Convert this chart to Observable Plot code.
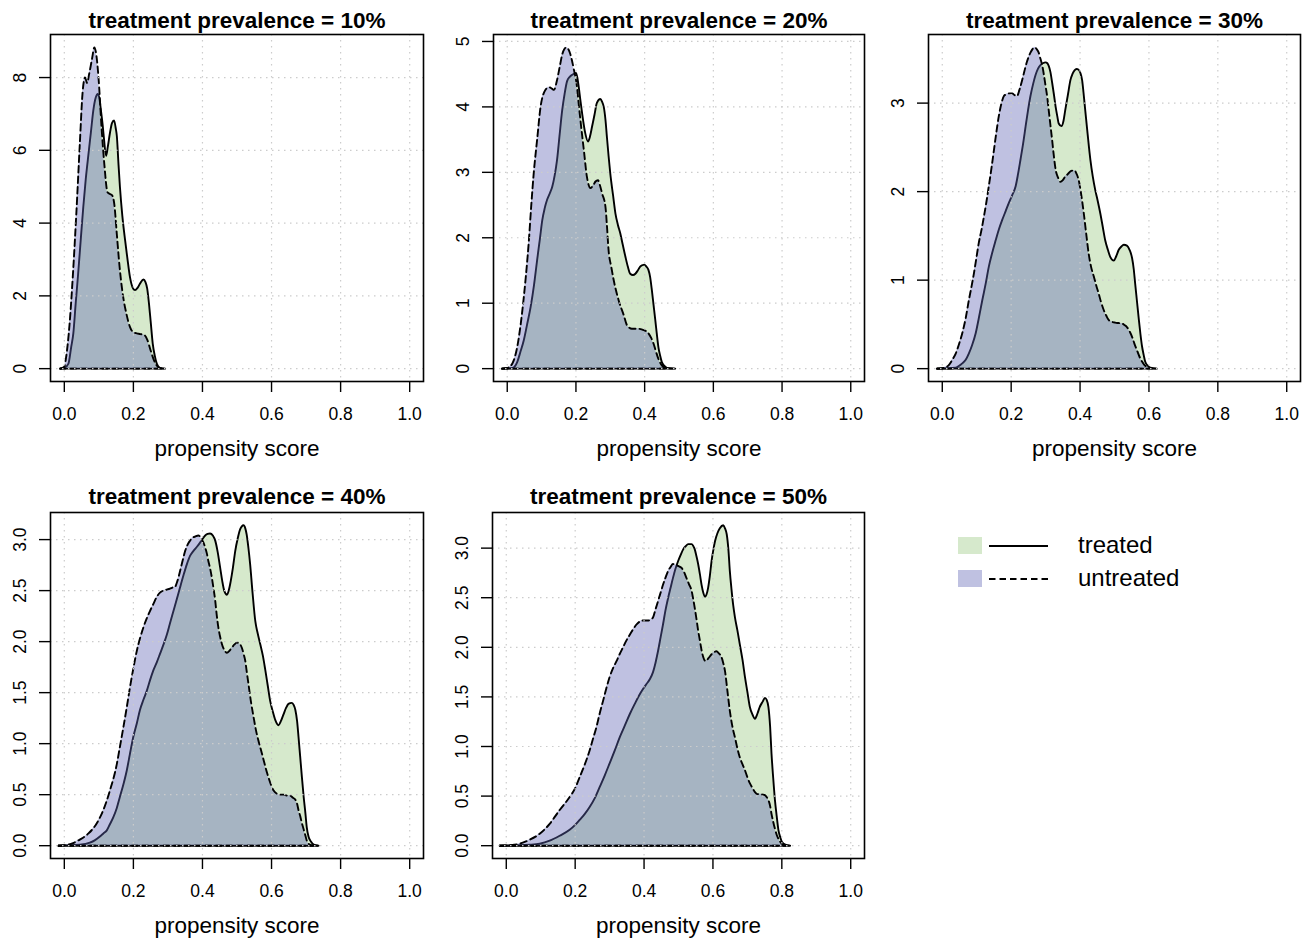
<!DOCTYPE html>
<html>
<head>
<meta charset="utf-8">
<script src="https://cdn.jsdelivr.net/npm/d3@7"></script>
<script src="https://cdn.jsdelivr.net/npm/@observablehq/plot@0.6"></script>
<style>
  html, body { margin: 0; padding: 0; background: white; }
  #chart { position: relative; width: 1311px; height: 940px; background: white; overflow: hidden;
           font-family: "Liberation Sans", Arial, Helvetica, sans-serif; }
  .cell { position: absolute; }
  .leg { position: absolute; font-size: 24px; line-height: 24px; color: black; }
</style>
</head>
<body>
<div id="chart"></div>
<script>
// ---------- data ----------
const xTicks = [0, 0.2, 0.4, 0.6, 0.8, 1.0];
const titles = ["treatment prevalence = 10%", "treatment prevalence = 20%", "treatment prevalence = 30%",
                "treatment prevalence = 40%", "treatment prevalence = 50%"];
const xLabel = "propensity score";
const seriesNames = ["treated", "untreated"];

const yTicks10 = [0, 2, 4, 6, 8];
const yTicks20 = [0, 1, 2, 3, 4, 5];
const yTicks30 = [0, 1, 2, 3];
const yTicks40 = [0, 0.5, 1.0, 1.5, 2.0, 2.5, 3.0];
const yTicks50 = [0, 0.5, 1.0, 1.5, 2.0, 2.5, 3.0];

// [propensity score, density]
const treated10 = [[-0.012,0],[0.0,0.02],[0.012,0.14],[0.02,0.6],[0.026,0.96],[0.033,1.8],[0.04,2.6],[0.048,3.6],[0.055,4.45],[0.062,5.2],[0.07,5.9],[0.077,6.5],[0.084,7.1],[0.091,7.45],[0.097,7.55],[0.102,7.4],[0.106,7.1],[0.111,6.7],[0.115,6.3],[0.121,5.85],[0.126,6.1],[0.132,6.47],[0.138,6.75],[0.144,6.82],[0.149,6.6],[0.152,6.4],[0.157,5.6],[0.161,5.0],[0.168,4.2],[0.176,3.53],[0.183,3.0],[0.19,2.52],[0.197,2.25],[0.205,2.16],[0.212,2.22],[0.22,2.35],[0.229,2.45],[0.235,2.38],[0.24,2.2],[0.245,1.8],[0.25,1.3],[0.256,0.69],[0.262,0.35],[0.268,0.13],[0.277,0.02],[0.292,0]];
const untreated10 = [[-0.012,0],[0.0,0.05],[0.005,0.3],[0.015,1.2],[0.025,2.6],[0.035,4.3],[0.045,6.2],[0.053,7.6],[0.06,8.0],[0.066,7.85],[0.072,8.1],[0.08,8.5],[0.087,8.83],[0.093,8.6],[0.099,8.0],[0.108,6.6],[0.116,5.6],[0.125,4.85],[0.132,4.8],[0.138,4.77],[0.145,4.5],[0.152,3.7],[0.16,2.8],[0.17,2.0],[0.18,1.5],[0.19,1.15],[0.2,1.0],[0.21,0.97],[0.22,0.95],[0.232,0.92],[0.24,0.8],[0.25,0.5],[0.26,0.22],[0.268,0.08],[0.278,0.01],[0.29,0]];

const treated20 = [[-0.015,0],[0.015,0.01],[0.029,0.1],[0.038,0.25],[0.048,0.43],[0.058,0.68],[0.068,0.94],[0.078,1.28],[0.087,1.66],[0.095,1.98],[0.102,2.27],[0.109,2.45],[0.116,2.58],[0.124,2.68],[0.131,2.78],[0.138,2.95],[0.145,3.19],[0.152,3.55],[0.16,3.95],[0.167,4.2],[0.174,4.39],[0.182,4.46],[0.189,4.49],[0.2,4.52],[0.204,4.45],[0.208,4.31],[0.213,4.1],[0.218,3.9],[0.227,3.6],[0.235,3.47],[0.241,3.55],[0.247,3.7],[0.254,3.88],[0.261,4.06],[0.271,4.12],[0.276,4.08],[0.281,4.0],[0.286,3.8],[0.29,3.55],[0.295,3.25],[0.3,2.98],[0.308,2.65],[0.315,2.37],[0.322,2.2],[0.329,2.07],[0.336,1.9],[0.344,1.71],[0.351,1.56],[0.358,1.45],[0.366,1.43],[0.373,1.45],[0.38,1.5],[0.387,1.56],[0.393,1.58],[0.399,1.59],[0.405,1.56],[0.411,1.51],[0.416,1.4],[0.421,1.2],[0.426,0.97],[0.431,0.74],[0.435,0.55],[0.44,0.33],[0.445,0.2],[0.45,0.1],[0.458,0.04],[0.465,0.01],[0.489,0]];
const untreated20 = [[-0.015,0],[0.0,0.01],[0.015,0.08],[0.029,0.33],[0.044,0.89],[0.054,1.4],[0.063,1.96],[0.07,2.5],[0.077,2.98],[0.087,3.5],[0.097,4.0],[0.108,4.23],[0.121,4.3],[0.13,4.28],[0.136,4.26],[0.145,4.41],[0.153,4.62],[0.16,4.8],[0.166,4.88],[0.172,4.91],[0.178,4.88],[0.184,4.8],[0.194,4.57],[0.203,4.31],[0.208,4.05],[0.213,3.8],[0.223,3.34],[0.232,2.93],[0.242,2.76],[0.25,2.8],[0.257,2.86],[0.264,2.88],[0.27,2.8],[0.276,2.68],[0.286,2.47],[0.29,2.2],[0.295,1.81],[0.303,1.55],[0.31,1.35],[0.324,1.05],[0.339,0.82],[0.349,0.66],[0.363,0.61],[0.378,0.61],[0.397,0.59],[0.411,0.54],[0.419,0.47],[0.426,0.38],[0.433,0.26],[0.44,0.15],[0.45,0.05],[0.465,0]];

const treated30 = [[-0.015,0],[0.039,0.01],[0.048,0.03],[0.058,0.06],[0.068,0.1],[0.077,0.17],[0.087,0.27],[0.097,0.4],[0.106,0.57],[0.116,0.77],[0.126,0.96],[0.135,1.15],[0.145,1.31],[0.155,1.45],[0.164,1.57],[0.174,1.68],[0.184,1.78],[0.193,1.87],[0.203,1.96],[0.213,2.06],[0.22,2.2],[0.227,2.36],[0.235,2.55],[0.242,2.74],[0.249,2.92],[0.256,3.08],[0.264,3.22],[0.271,3.32],[0.278,3.39],[0.285,3.43],[0.292,3.45],[0.3,3.46],[0.305,3.45],[0.309,3.42],[0.314,3.35],[0.319,3.23],[0.324,3.1],[0.329,2.96],[0.334,2.85],[0.338,2.77],[0.346,2.74],[0.352,2.8],[0.357,2.92],[0.365,3.1],[0.372,3.26],[0.378,3.33],[0.384,3.37],[0.39,3.385],[0.395,3.38],[0.401,3.34],[0.406,3.26],[0.41,3.12],[0.415,2.92],[0.422,2.65],[0.43,2.36],[0.437,2.17],[0.444,2.02],[0.451,1.9],[0.459,1.75],[0.466,1.6],[0.473,1.45],[0.481,1.34],[0.488,1.26],[0.498,1.22],[0.505,1.27],[0.512,1.34],[0.52,1.38],[0.527,1.4],[0.536,1.39],[0.544,1.34],[0.551,1.25],[0.556,1.12],[0.56,0.96],[0.565,0.77],[0.57,0.58],[0.575,0.4],[0.58,0.25],[0.585,0.15],[0.589,0.08],[0.597,0.03],[0.604,0.01],[0.623,0]];
const untreated30 = [[-0.015,0],[0.005,0.01],[0.019,0.04],[0.029,0.1],[0.039,0.17],[0.048,0.27],[0.058,0.4],[0.068,0.57],[0.077,0.77],[0.085,0.93],[0.092,1.08],[0.099,1.25],[0.106,1.42],[0.114,1.57],[0.121,1.72],[0.128,1.88],[0.135,2.06],[0.143,2.27],[0.15,2.47],[0.157,2.67],[0.164,2.85],[0.172,3.0],[0.179,3.08],[0.186,3.1],[0.193,3.11],[0.203,3.11],[0.21,3.09],[0.217,3.08],[0.224,3.15],[0.232,3.26],[0.239,3.37],[0.246,3.47],[0.256,3.57],[0.262,3.61],[0.268,3.63],[0.274,3.61],[0.28,3.57],[0.285,3.5],[0.29,3.43],[0.295,3.32],[0.3,3.19],[0.305,3.06],[0.309,2.92],[0.314,2.75],[0.319,2.58],[0.324,2.4],[0.329,2.25],[0.336,2.16],[0.343,2.11],[0.35,2.13],[0.357,2.17],[0.365,2.2],[0.372,2.23],[0.384,2.24],[0.39,2.2],[0.396,2.13],[0.404,1.95],[0.411,1.75],[0.418,1.52],[0.425,1.3],[0.432,1.15],[0.44,1.04],[0.447,0.94],[0.454,0.85],[0.461,0.75],[0.469,0.66],[0.476,0.6],[0.483,0.55],[0.492,0.53],[0.502,0.52],[0.512,0.515],[0.522,0.51],[0.53,0.49],[0.536,0.47],[0.544,0.42],[0.551,0.36],[0.558,0.28],[0.565,0.21],[0.572,0.14],[0.58,0.08],[0.587,0.04],[0.594,0.02],[0.609,0]];

const treated40 = [[-0.017,0],[0.045,0.01],[0.074,0.03],[0.089,0.055],[0.103,0.09],[0.113,0.12],[0.123,0.15],[0.132,0.21],[0.142,0.28],[0.152,0.37],[0.161,0.48],[0.171,0.6],[0.181,0.74],[0.19,0.9],[0.2,1.07],[0.21,1.2],[0.219,1.33],[0.229,1.43],[0.239,1.52],[0.248,1.62],[0.258,1.72],[0.268,1.8],[0.277,1.88],[0.287,1.97],[0.297,2.07],[0.306,2.18],[0.316,2.3],[0.326,2.42],[0.335,2.53],[0.345,2.65],[0.355,2.76],[0.364,2.84],[0.374,2.89],[0.384,2.93],[0.393,2.97],[0.401,3.01],[0.408,3.04],[0.415,3.055],[0.422,3.06],[0.43,3.04],[0.437,2.99],[0.444,2.88],[0.451,2.73],[0.457,2.6],[0.463,2.5],[0.471,2.46],[0.476,2.5],[0.48,2.56],[0.488,2.72],[0.495,2.89],[0.502,3.01],[0.509,3.1],[0.514,3.13],[0.519,3.14],[0.524,3.11],[0.528,3.05],[0.533,2.92],[0.538,2.76],[0.545,2.48],[0.553,2.2],[0.56,2.08],[0.567,1.98],[0.575,1.86],[0.582,1.72],[0.589,1.57],[0.596,1.42],[0.604,1.31],[0.611,1.23],[0.62,1.18],[0.627,1.22],[0.635,1.29],[0.642,1.35],[0.649,1.39],[0.659,1.4],[0.664,1.38],[0.669,1.33],[0.674,1.22],[0.678,1.07],[0.683,0.87],[0.688,0.67],[0.693,0.48],[0.698,0.32],[0.702,0.18],[0.707,0.09],[0.714,0.04],[0.722,0.01],[0.736,0]];
const untreated40 = [[-0.017,0],[0.0,0.005],[0.021,0.02],[0.045,0.06],[0.07,0.12],[0.094,0.22],[0.113,0.35],[0.132,0.54],[0.152,0.8],[0.161,0.97],[0.171,1.16],[0.181,1.36],[0.19,1.55],[0.2,1.74],[0.21,1.91],[0.219,2.03],[0.229,2.14],[0.239,2.23],[0.248,2.3],[0.258,2.37],[0.268,2.44],[0.277,2.48],[0.287,2.5],[0.297,2.51],[0.306,2.52],[0.313,2.53],[0.321,2.54],[0.328,2.6],[0.335,2.69],[0.343,2.8],[0.35,2.89],[0.357,2.95],[0.364,2.99],[0.372,3.02],[0.379,3.03],[0.388,3.04],[0.393,3.03],[0.398,3.0],[0.403,2.97],[0.408,2.92],[0.413,2.86],[0.417,2.79],[0.422,2.72],[0.427,2.63],[0.432,2.52],[0.437,2.4],[0.441,2.27],[0.446,2.14],[0.451,2.05],[0.456,1.98],[0.463,1.92],[0.471,1.89],[0.478,1.91],[0.485,1.94],[0.492,1.97],[0.5,1.99],[0.507,1.98],[0.514,1.94],[0.519,1.88],[0.524,1.81],[0.528,1.71],[0.533,1.59],[0.54,1.42],[0.548,1.26],[0.555,1.13],[0.562,1.03],[0.57,0.93],[0.577,0.84],[0.584,0.75],[0.591,0.67],[0.598,0.6],[0.606,0.54],[0.615,0.51],[0.625,0.5],[0.635,0.5],[0.645,0.49],[0.654,0.49],[0.662,0.47],[0.669,0.45],[0.674,0.41],[0.678,0.35],[0.683,0.29],[0.688,0.22],[0.693,0.16],[0.698,0.1],[0.702,0.05],[0.707,0.02],[0.722,0]];

const treated50 = [[-0.019,0],[0.068,0.01],[0.097,0.02],[0.126,0.05],[0.155,0.1],[0.184,0.16],[0.2,0.21],[0.213,0.26],[0.228,0.32],[0.242,0.39],[0.257,0.48],[0.271,0.59],[0.286,0.71],[0.3,0.83],[0.315,0.96],[0.329,1.09],[0.344,1.21],[0.359,1.33],[0.373,1.43],[0.388,1.53],[0.397,1.58],[0.407,1.63],[0.417,1.68],[0.426,1.75],[0.433,1.84],[0.441,1.97],[0.448,2.1],[0.455,2.23],[0.462,2.37],[0.47,2.5],[0.477,2.6],[0.484,2.7],[0.491,2.79],[0.499,2.87],[0.506,2.93],[0.514,2.99],[0.521,3.02],[0.528,3.04],[0.538,3.04],[0.543,3.02],[0.547,2.99],[0.552,2.92],[0.557,2.84],[0.562,2.74],[0.567,2.63],[0.572,2.55],[0.577,2.51],[0.581,2.53],[0.586,2.6],[0.591,2.72],[0.596,2.87],[0.601,2.98],[0.606,3.07],[0.613,3.15],[0.62,3.2],[0.63,3.23],[0.635,3.2],[0.64,3.14],[0.645,2.98],[0.649,2.77],[0.654,2.58],[0.659,2.42],[0.664,2.3],[0.671,2.17],[0.678,2.03],[0.686,1.87],[0.693,1.7],[0.7,1.55],[0.707,1.4],[0.715,1.32],[0.722,1.28],[0.729,1.33],[0.736,1.4],[0.744,1.45],[0.751,1.49],[0.756,1.47],[0.761,1.4],[0.766,1.2],[0.77,0.93],[0.775,0.68],[0.78,0.46],[0.785,0.3],[0.79,0.16],[0.795,0.09],[0.8,0.04],[0.81,0.01],[0.824,0]];
const untreated50 = [[-0.019,0],[0.01,0.005],[0.039,0.02],[0.068,0.06],[0.097,0.12],[0.126,0.22],[0.155,0.36],[0.184,0.49],[0.2,0.58],[0.213,0.69],[0.228,0.82],[0.242,0.96],[0.252,1.08],[0.262,1.2],[0.271,1.33],[0.281,1.46],[0.29,1.58],[0.3,1.7],[0.31,1.79],[0.32,1.86],[0.329,1.93],[0.339,2.0],[0.349,2.07],[0.359,2.13],[0.368,2.18],[0.378,2.23],[0.388,2.26],[0.397,2.27],[0.405,2.27],[0.412,2.27],[0.419,2.28],[0.426,2.3],[0.433,2.38],[0.441,2.47],[0.448,2.55],[0.455,2.63],[0.462,2.7],[0.47,2.77],[0.477,2.81],[0.484,2.84],[0.491,2.83],[0.499,2.82],[0.509,2.8],[0.516,2.76],[0.523,2.7],[0.53,2.64],[0.538,2.57],[0.542,2.5],[0.547,2.4],[0.552,2.29],[0.557,2.17],[0.562,2.07],[0.567,1.97],[0.572,1.9],[0.579,1.86],[0.587,1.89],[0.596,1.93],[0.603,1.95],[0.61,1.96],[0.617,1.94],[0.625,1.9],[0.63,1.84],[0.635,1.76],[0.642,1.56],[0.649,1.36],[0.656,1.21],[0.664,1.09],[0.671,0.98],[0.678,0.89],[0.686,0.82],[0.693,0.76],[0.7,0.69],[0.707,0.63],[0.715,0.58],[0.722,0.54],[0.729,0.52],[0.736,0.52],[0.744,0.515],[0.751,0.51],[0.756,0.49],[0.761,0.46],[0.766,0.4],[0.77,0.32],[0.775,0.24],[0.78,0.17],[0.785,0.11],[0.79,0.07],[0.795,0.04],[0.8,0.02],[0.814,0]];

// ---------- styling ----------
const GREEN = "#d6e9cc";
const BLUE = "#5f64b4";
const BLUE_OPACITY = 0.4;
const BLUE_SWATCH = "#bfc1e1";
const FONT = "'Liberation Sans', Arial, Helvetica, sans-serif";
const DASH = "6.5,4";
const LW = 1.9;

const panels = [
  {title: titles[0], treated: treated10, untreated: untreated10, yTicks: yTicks10, fmt: d3.format("d"),
   left: 0, top: 0, mL: 50, mR: 14, mT: 34, mB: 89, titleDy: -7},
  {title: titles[1], treated: treated20, untreated: untreated20, yTicks: yTicks20, fmt: d3.format("d"),
   left: 437, top: 0, mL: 56, mR: 10, mT: 34, mB: 89, titleDy: -7},
  {title: titles[2], treated: treated30, untreated: untreated30, yTicks: yTicks30, fmt: d3.format("d"),
   left: 874, top: 0, mL: 54, mR: 11, mT: 34, mB: 89, titleDy: -7},
  {title: titles[3], treated: treated40, untreated: untreated40, yTicks: yTicks40, fmt: d3.format(".1f"),
   left: 0, top: 470, mL: 50, mR: 14, mT: 42, mB: 82, titleDy: -8.5},
  {title: titles[4], treated: treated50, untreated: untreated50, yTicks: yTicks50, fmt: d3.format(".1f"),
   left: 437, top: 470, mL: 55, mR: 10, mT: 42, mB: 82, titleDy: -8.5}
];

const chart = document.getElementById("chart");
const X = d => d[0], Y = d => d[1];

for (const p of panels) {
  const ymax = d3.max([...p.treated, ...p.untreated], Y);
  const svg = Plot.plot({
    width: 437, height: 470,
    marginLeft: p.mL, marginRight: p.mR, marginTop: p.mT, marginBottom: p.mB,
    x: {domain: [-0.04, 1.04]},
    y: {domain: [-0.04 * ymax, 1.04 * ymax]},
    style: {fontFamily: FONT, background: "white", color: "black", overflow: "visible"},
    marks: [
      Plot.areaY(p.treated, {x: X, y: Y, fill: GREEN, curve: "monotone-x"}),
      Plot.line(p.treated, {x: X, y: Y, stroke: "black", strokeWidth: LW, curve: "monotone-x"}),
      Plot.ruleY([0], {x1: p.treated[0][0], x2: p.treated[p.treated.length - 1][0], stroke: "black", strokeWidth: LW}),
      Plot.areaY(p.untreated, {x: X, y: Y, fill: BLUE, fillOpacity: BLUE_OPACITY, curve: "monotone-x"}),
      Plot.line(p.untreated, {x: X, y: Y, stroke: "black", strokeWidth: LW, strokeDasharray: DASH, curve: "monotone-x"}),
      Plot.ruleY([0], {x1: p.untreated[0][0], x2: p.untreated[p.untreated.length - 1][0], stroke: "black", strokeWidth: LW, strokeDasharray: DASH}),
      Plot.gridX(xTicks, {stroke: "#cccccc", strokeOpacity: 1, strokeWidth: 1.2, strokeDasharray: "1.5,4.5"}),
      Plot.gridY(p.yTicks, {stroke: "#cccccc", strokeOpacity: 1, strokeWidth: 1.2, strokeDasharray: "1.5,4.5"}),
      Plot.axisX({ticks: xTicks, tickSize: 11, tickPadding: 15.5, fontSize: 17.5, tickFormat: d3.format(".1f"),
                  label: null, stroke: "black", strokeWidth: 1.4}),
      Plot.axisY({ticks: p.yTicks, tickSize: 11, tickFormat: () => "", label: null, stroke: "black", strokeWidth: 1.4}),
      Plot.text(p.yTicks, {y: d => d, text: p.fmt, frameAnchor: "left", dx: -30, rotate: -90,
                           fontSize: 17.5, textAnchor: "middle", lineAnchor: "middle", fill: "black"}),
      Plot.text([p.title], {frameAnchor: "top", dy: p.titleDy, lineAnchor: "bottom", fontWeight: "bold",
                            fontSize: 22.5, fill: "black"}),
      Plot.text([xLabel], {frameAnchor: "bottom", dy: 67, lineAnchor: "middle", fontSize: 22.5, fill: "black"}),
      Plot.frame({stroke: "black", strokeWidth: 1.6})
    ]
  });
  const cell = document.createElement("div");
  cell.className = "cell";
  cell.style.left = p.left + "px";
  cell.style.top = p.top + "px";
  cell.appendChild(svg);
  chart.appendChild(cell);
}

// ---------- legend ----------
const legendRows = [
  {name: seriesNames[0], swatch: GREEN, dash: null, y: 537},
  {name: seriesNames[1], swatch: BLUE_SWATCH, dash: DASH, y: 570}
];
for (const r of legendRows) {
  const sw = document.createElement("div");
  sw.style.cssText = `position:absolute;left:958px;top:${r.y}px;width:24px;height:17px;background:${r.swatch};`;
  chart.appendChild(sw);
  const ln = document.createElementNS("http://www.w3.org/2000/svg", "svg");
  ln.setAttribute("width", "62"); ln.setAttribute("height", "6");
  ln.style.cssText = `position:absolute;left:988px;top:${r.y + 5.5}px;`;
  const l = document.createElementNS("http://www.w3.org/2000/svg", "line");
  l.setAttribute("x1", "1"); l.setAttribute("x2", "60"); l.setAttribute("y1", "3"); l.setAttribute("y2", "3");
  l.setAttribute("stroke", "black"); l.setAttribute("stroke-width", String(LW));
  if (r.dash) l.setAttribute("stroke-dasharray", r.dash);
  ln.appendChild(l);
  chart.appendChild(ln);
  const tx = document.createElement("div");
  tx.className = "leg";
  tx.style.left = "1078px";
  tx.style.top = (r.y - 4) + "px";
  tx.textContent = r.name;
  chart.appendChild(tx);
}
</script>
</body>
</html>
